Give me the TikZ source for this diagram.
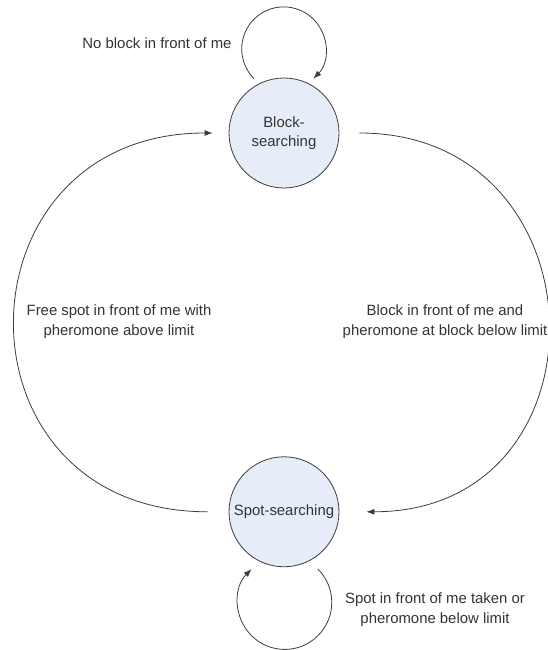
\documentclass[tikz,border=0pt]{standalone}
\usepackage{fontspec}
\setmainfont{Liberation Sans}
\usepackage{tikz}
\definecolor{statefill}{RGB}{230,237,248}
\definecolor{linegray}{RGB}{60,60,60}
\tikzset{
state/.style={draw=linegray, line width=0.8pt, fill=statefill, circle, minimum size=110pt, inner sep=0pt, align=center, font=\fontsize{14.9}{19}\selectfont, text=black!80},
trans/.style={-{Latex[length=8pt,width=6pt]}, draw=linegray, line width=0.8pt},
cond/.style={align=center, font=\fontsize{14.9}{20}\selectfont, text=black!80}
}
\usetikzlibrary{positioning, arrows.meta}

\begin{document}
\begin{tikzpicture}[x=1pt, y=1pt]
			\useasboundingbox (0,0) rectangle (547,650);
			\node[state] (block) at (284,517) {Block-\\searching};
			\node[state, below=268pt of block] (spot) {Spot-searching};
			% ----
			\node[cond] (noblock) at (157,607) {No block in front of me};
			\node[cond] (freespot) at (119,328) {Free spot in front of me with\\pheromone above limit};
			\node[cond] (blockfront) at (445,328) {Block in front of me and\\pheromone at block below limit};
			\node[cond] (spottaken) at (435,40) {Spot in front of me taken or\\pheromone below limit};
			% ----
			\draw[trans] ([shift={(-30pt,-1pt)}]block.north) arc[start angle=225, end angle=-45, radius=42pt];
			\draw[trans] ([shift={(34pt,-2pt)}]spot.south) arc[start angle=45, end angle=-225, radius=47pt];
			%
			\draw[trans] ([xshift=-21pt]spot.west) to[out=180, in=180, looseness=1.76] ([xshift=-16pt]block.west);
			\draw[trans] ([xshift=20pt]block.east) to[out=0, in=0, looseness=1.67] ([xshift=27pt]spot.east);
		\end{tikzpicture}
\end{document}
